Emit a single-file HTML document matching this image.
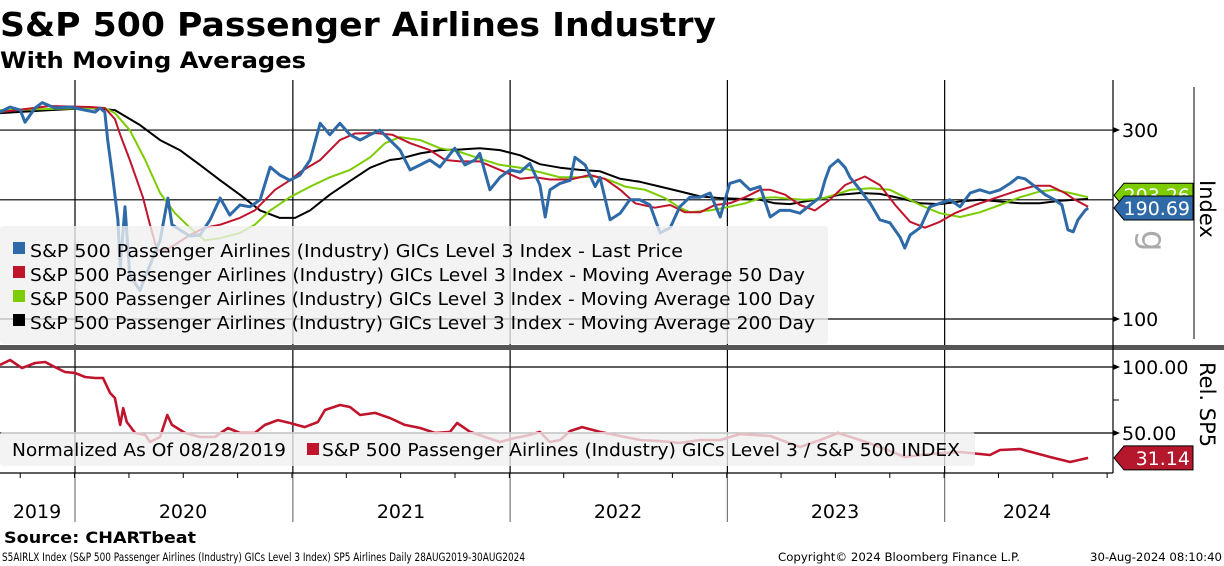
<!DOCTYPE html>
<html><head><meta charset="utf-8">
<style>
html,body{margin:0;padding:0;background:#fff;}
body{width:1224px;height:566px;overflow:hidden;position:relative;font-family:"DejaVu Sans","Liberation Sans",sans-serif;}
svg{position:absolute;left:0;top:0;font-family:"DejaVu Sans","Liberation Sans",sans-serif;}
</style></head>
<body>
<svg id="chart" width="1224" height="566" viewBox="0 0 1224 566">
  <text x="0" y="36" font-size="33" font-weight="bold" fill="#000" textLength="716" lengthAdjust="spacingAndGlyphs">S&amp;P 500 Passenger Airlines Industry</text>
  <text x="0" y="68" font-size="22" font-weight="bold" fill="#000" textLength="306" lengthAdjust="spacingAndGlyphs">With Moving Averages</text>
  <g id="grid"></g>
  <g id="series"></g>
  <rect x="0" y="345" width="1224" height="5" fill="#555"/>
  <g>
    <rect x="0" y="226" width="828" height="118" rx="3" fill="#efefef" fill-opacity="0.78"/>
    <rect x="13" y="242" width="12" height="12" fill="#2e6aa8"/>
    <text x="30" y="257" font-size="18" textLength="653" lengthAdjust="spacingAndGlyphs">S&amp;P 500 Passenger Airlines (Industry) GICs Level 3 Index - Last Price</text>
    <rect x="13" y="266" width="12" height="12" fill="#c0142c"/>
    <text x="30" y="281" font-size="18" textLength="775" lengthAdjust="spacingAndGlyphs">S&amp;P 500 Passenger Airlines (Industry) GICs Level 3 Index - Moving Average 50 Day</text>
    <rect x="13" y="290" width="12" height="12" fill="#7ccc00"/>
    <text x="30" y="305" font-size="18" textLength="785" lengthAdjust="spacingAndGlyphs">S&amp;P 500 Passenger Airlines (Industry) GICs Level 3 Index - Moving Average 100 Day</text>
    <rect x="13" y="314" width="12" height="12" fill="#000"/>
    <text x="30" y="329" font-size="18" textLength="785" lengthAdjust="spacingAndGlyphs">S&amp;P 500 Passenger Airlines (Industry) GICs Level 3 Index - Moving Average 200 Day</text>
  </g>
  <g>
    <rect x="0" y="432" width="975" height="34" rx="3" fill="#efefef" fill-opacity="0.78"/>
    <text x="12" y="456" font-size="18" textLength="274" lengthAdjust="spacingAndGlyphs">Normalized As Of 08/28/2019</text>
    <rect x="307" y="443" width="12" height="12" fill="#c0142c"/>
    <text x="322" y="456" font-size="18" textLength="638" lengthAdjust="spacingAndGlyphs">S&amp;P 500 Passenger Airlines (Industry) GICs Level 3 / S&amp;P 500 INDEX</text>
  </g>
  <g id="axes"></g>
  <text x="4" y="543" font-size="16" font-weight="bold" textLength="192" lengthAdjust="spacingAndGlyphs">Source: CHARTbeat</text>
  <text x="2" y="561" font-size="11.5" textLength="523" lengthAdjust="spacingAndGlyphs">S5AIRLX Index (S&amp;P 500 Passenger Airlines (Industry) GICs Level 3 Index) SP5 Airlines  Daily 28AUG2019-30AUG2024</text>
  <text x="778" y="561" font-size="11.5" textLength="242" lengthAdjust="spacingAndGlyphs">Copyright© 2024 Bloomberg Finance L.P.</text>
  <text x="1090" y="561" font-size="11.5" textLength="132" lengthAdjust="spacingAndGlyphs">30-Aug-2024 08:10:40</text>
</svg>
<script>
// ---- data ----
const priceDays=[0,17,34,42,59,71,92,118,143,160,168,176,181,190,198,202,210,218,235,252,269,282,289,302,319,336,353,370,386,403,420,437,454,470,487,504,521,538,554,571,588,605,622,638,655,672,689,706,722,739,764,781,798,806,823,840,857,874,890,907,916,924,941,958,966,983,1000,1008,1025,1042,1058,1075,1092,1109,1126,1142,1159,1176,1193,1210,1226,1243,1260,1277,1294,1310,1327,1344,1361,1378,1386,1394,1408,1420,1428,1445,1462,1478,1495,1512,1520,1529,1546,1562,1579,1596,1613,1630,1646,1663,1680,1697,1710,1722,1739,1756,1772,1784,1794,1803,1811,1823,1828];
const priceValues=[333,343,337,314,341,352,341,343,337,333,341,333,283,224,178,135,192,129,118,137,158,202,173,168,162,163,178,202,183,194,192,200,242,231,224,231,252,312,292,312,292,283,292,300,283,267,238,245,252,242,270,245,252,262,212,228,238,235,247,218,181,212,220,224,256,245,216,228,178,185,200,200,194,165,170,192,203,203,208,181,220,224,212,216,181,188,188,185,194,203,224,242,252,241,228,212,196,178,175,161,151,163,170,192,196,200,192,208,212,208,212,220,228,226,216,206,200,194,168,166,178,188,190.69];
const ma50Days=[0,84,151,176,193,202,218,240,252,264,277,294,319,344,370,403,428,462,487,504,538,571,596,630,659,689,722,748,773,806,840,874,899,924,958,991,1016,1042,1067,1100,1126,1151,1176,1201,1226,1252,1277,1294,1319,1344,1369,1394,1420,1453,1478,1504,1529,1554,1579,1604,1638,1672,1705,1739,1764,1789,1806,1828];
const ma50Values=[333,345,343,341,320,292,252,203,173,149,149,154,163,170,173,180,188,212,224,235,252,283,294,295,292,278,267,252,250,250,238,226,228,225,225,231,226,212,196,191,194,186,186,194,196,203,212,212,206,194,188,200,218,229,218,194,176,170,176,185,194,202,210,217,217,208,200,192];
const ma100Days=[0,151,176,193,218,244,269,294,319,344,370,403,428,454,487,521,554,588,622,647,672,706,739,773,806,840,874,907,941,974,1000,1025,1050,1084,1117,1142,1159,1193,1218,1252,1277,1302,1327,1352,1378,1403,1428,1462,1495,1520,1546,1579,1613,1646,1680,1714,1747,1772,1798,1828];
const ma100Values=[337,341,341,331,300,252,208,185,170,158,160,165,173,188,203,216,228,238,256,278,288,283,270,264,254,245,241,235,228,228,229,224,216,212,202,191,186,188,191,196,202,203,201,200,201,206,212,214,212,203,194,185,181,186,194,203,210,212,208,203];
const ma200Days=[0,84,151,193,235,269,302,336,370,403,437,470,496,521,554,588,622,655,672,706,739,773,806,840,874,907,941,974,1008,1042,1075,1109,1142,1176,1210,1243,1277,1302,1327,1352,1378,1411,1445,1478,1512,1546,1579,1613,1646,1680,1714,1747,1781,1828];
const ma200Values=[331,337,341,337,309,283,267,245,224,206,188,180,180,188,206,223,241,252,254,262,267,268,270,267,259,246,241,238,236,226,222,216,210,204,202,201,200,196,195,198,201,206,208,207,202,196,195,198,200,198,196,196,199,201];
const relDays=[0,17,37,59,76,92,109,126,143,160,173,185,193,202,207,213,227,244,252,269,281,289,311,336,361,383,403,428,445,467,487,512,534,546,571,588,605,630,655,680,706,731,756,768,790,815,840,865,890,907,924,941,958,978,1008,1042,1075,1109,1142,1176,1210,1243,1294,1344,1378,1408,1445,1478,1520,1562,1613,1663,1680,1714,1764,1798,1828];
const relValues=[101.5,105.3,99.2,103,103.8,100,96.2,95.5,92.4,91.7,91.7,80.3,76.5,56.1,68.9,58.3,50,48.5,43.2,47,63.6,56.1,50,47,47,53.8,50,50,56.1,59.8,57.6,54.5,58.3,67.4,71.2,69.7,63.6,65.2,61.4,56.1,53.8,50,50.8,57.6,50.8,47,43.2,46.2,48.5,50.8,43.2,44.7,51.5,54.5,50.8,47.7,44.7,43.9,42.4,44.7,44.7,49.2,47.7,39.4,44.7,50,44.7,39.4,31.8,34.1,35.6,33.3,37.1,37.9,31.8,28,31.14];
const yearLabels=["2019","2020","2021","2022","2023","2024"];
const yearStartDays=[126,492,857,1222,1587];
const priceTicks=[300,100];
const priceGrid=[300,200,100];
const relTicks=[100,50];
// ---- scales ----
const PX_PER_DAY=1/1.68;
const xS=d=>d*PX_PER_DAY;
const yP=v=>319-396*Math.log10(v/100);
const yR=v=>367+(100-v)*1.32;
const NS="http://www.w3.org/2000/svg";
function mk(tag,attrs,parent){const e=document.createElementNS(NS,tag);for(const k in attrs)e.setAttribute(k,attrs[k]);parent.appendChild(e);return e;}
const grid=document.getElementById('grid'),ser=document.getElementById('series'),ax=document.getElementById('axes');
priceGrid.forEach(v=>{const l=mk('line',{x1:0,x2:1113,y1:yP(v),y2:yP(v),stroke:'#000','stroke-width':1.2},grid);

});
relTicks.forEach(v=>{const l=mk('line',{x1:0,x2:1113,y1:yR(v),y2:yR(v),stroke:'#000','stroke-width':1.2},grid);

});
yearStartDays.forEach(d=>{const x=xS(d);
const a=mk('line',{x1:x,x2:x,y1:80,y2:345,stroke:'#000','stroke-width':1.2},grid);


const b=mk('line',{x1:x,x2:x,y1:350,y2:473,stroke:'#000','stroke-width':1.2},grid);


const c=mk('line',{x1:x,x2:x,y1:473,y2:522,stroke:'#777','stroke-width':1.2},grid);

});
const defs=mk('defs',{},ser);const cp=mk('clipPath',{id:'clipTop'},defs);mk('rect',{x:0,y:80,width:1112,height:265},cp);
const cp2=mk('clipPath',{id:'clipBot'},defs);mk('rect',{x:0,y:350,width:1112,height:122},cp2);
function line(days,vals,yf,color,w,name,clip){const d=days.map((t,i)=>(i?'L':'M')+xS(t).toFixed(1)+' '+yf(vals[i]).toFixed(1)).join(' ');
const p=mk('path',{d:d,fill:'none',stroke:color,'stroke-width':w,'stroke-linejoin':'round','clip-path':'url(#'+clip+')'},ser);

}
line(ma200Days,ma200Values,yP,'#000',2,'ma200-line','clipTop');
line(ma100Days,ma100Values,yP,'#7ccc00',2,'ma100-line','clipTop');
line(ma50Days,ma50Values,yP,'#c0142c',2,'ma50-line','clipTop');
line(priceDays,priceValues,yP,'#2e6aa8',3,'price-line','clipTop');
line(relDays,relValues,yR,'#c0142c',2.6,'relative-line','clipBot');
mk('line',{x1:1113,x2:1113,y1:80,y2:473,stroke:'#000','stroke-width':1.2},ax);
mk('line',{x1:0,x2:1113,y1:473,y2:473,stroke:'#000','stroke-width':1.2},ax);
mk('line',{x1:1194,x2:1194,y1:87,y2:339,stroke:'#000','stroke-width':1},ax);
priceTicks.forEach(v=>{const y=yP(v);mk('path',{d:`M1113 ${y-3} L1120 ${y} L1113 ${y+3}Z`,fill:'#000'},ax);
const t=mk('text',{x:1122,y:y+7,'font-size':19},ax);t.textContent=v;

});
relTicks.forEach(v=>{const y=yR(v);mk('path',{d:`M1113 ${y-3} L1120 ${y} L1113 ${y+3}Z`,fill:'#000'},ax);
const t=mk('text',{x:1122,y:y+7,'font-size':19},ax);t.textContent=v.toFixed(2);

});
[75,400].forEach(v=>{const y=yR(v);mk('line',{x1:1113,x2:1119,y1:y,y2:y,stroke:'#000'},ax);});
for(let q=0;q<21;q++){const d=34+q*91.3;const x=xS(d);if(x<1113)mk('line',{x1:x,x2:x,y1:473,y2:478,stroke:'#000'},ax);}
const labelX=[37,183,401,618,835,1027];
yearLabels.forEach((s,i)=>{const t=mk('text',{x:labelX[i],y:518,'font-size':19,'text-anchor':'middle'},ax);t.textContent=s;

});
function tag(y,color,label,name){const g=mk('g',{},ax);


mk('path',{d:`M1114 ${y} L1124 ${y-12} L1193 ${y-12} L1193 ${y+12} L1124 ${y+12}Z`,fill:color,stroke:'#000','stroke-width':1},g);
const t=mk('text',{x:1190,y:y+7,'font-size':19,fill:'#fff','text-anchor':'end'},g);t.textContent=label;}
tag(yP(ma100Values[ma100Values.length-1])-2,'#7ccc00','203.26','ma100-value-tag');
const gl=mk('text',{x:0,y:0,'font-size':34,fill:'#aaa',transform:'translate(1142,230) rotate(90)'},ax);gl.textContent='g';
tag(yP(priceValues[priceValues.length-1]),'#2e6aa8',priceValues[priceValues.length-1].toFixed(2),'price-value-tag');
tag(yR(relValues[relValues.length-1]),'#b5172c',relValues[relValues.length-1].toFixed(2),'relative-value-tag');
const t1=mk('text',{x:0,y:0,'font-size':21,transform:'translate(1200,180) rotate(90)'},ax);t1.textContent='Index';


const t2=mk('text',{x:0,y:0,'font-size':21,transform:'translate(1200,362) rotate(90)'},ax);t2.textContent='Rel. SP5';


</script>
</body></html>
